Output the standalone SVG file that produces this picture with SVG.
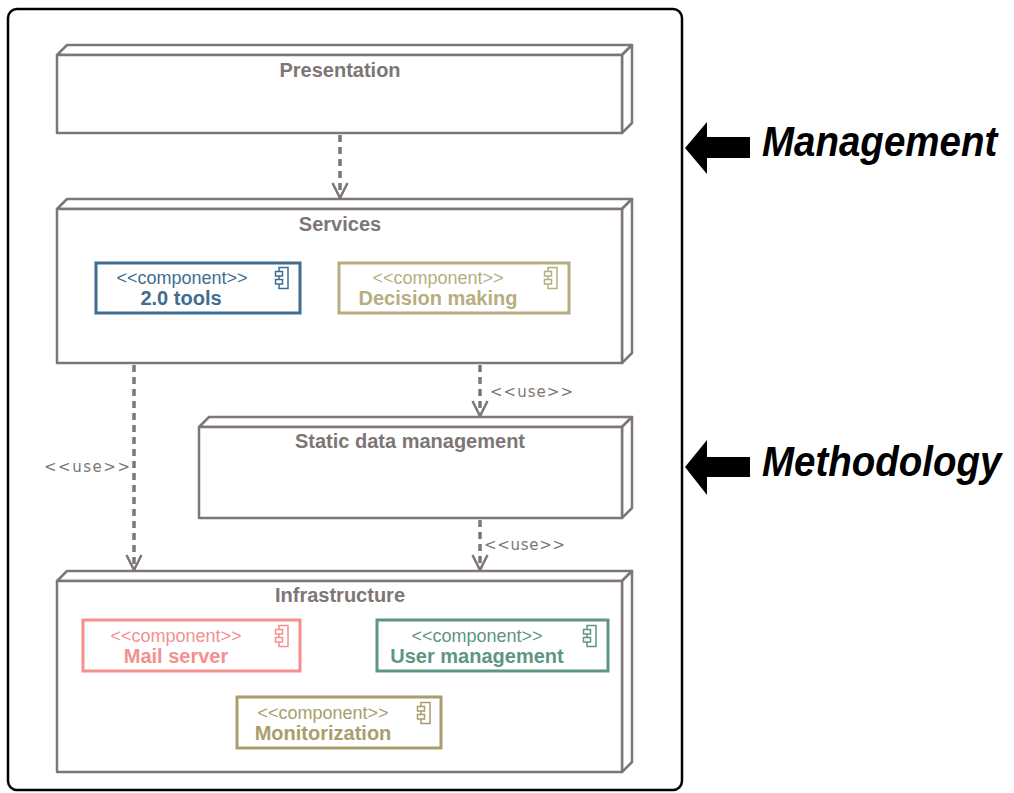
<svg xmlns="http://www.w3.org/2000/svg" width="1014" height="793" viewBox="0 0 1014 793">
<defs>
<style>
.node{fill:#fff;stroke:#7d7675;stroke-width:2.5;stroke-linejoin:round}
.title{font-family:"Liberation Sans",Arial,sans-serif;font-weight:bold;font-size:20px;fill:#7d7675;text-anchor:middle}
.ster{font-family:"Liberation Sans",Arial,sans-serif;font-size:18px;text-anchor:middle}
.cname{font-family:"Liberation Sans",Arial,sans-serif;font-weight:bold;font-size:20px;text-anchor:middle}
.comp{fill:#fff;stroke-width:3}
.icon{fill:#fff;stroke-width:1.5}
.dep{fill:none;stroke:#7d7675;stroke-width:3.5;stroke-dasharray:7 5}
.use{font-family:"DejaVu Sans","Liberation Sans",sans-serif;font-size:15px;fill:#7d7675}
.side{font-family:"Liberation Sans",Arial,sans-serif;font-weight:bold;font-style:italic;font-size:38.5px;fill:#000}
</style>
<marker id="open" viewBox="0 0 20 20" refX="18" refY="10" markerWidth="20" markerHeight="20" markerUnits="userSpaceOnUse" orient="auto">
<path d="M3,2.5 L18,10 L3,17.5" fill="none" stroke="#7d7675" stroke-width="2.5"/>
</marker>
<symbol id="ico" viewBox="0 0 14 22" overflow="visible">
<rect x="4" y="0.5" width="9" height="21"/>
<rect x="0.5" y="4.5" width="7" height="4.5"/>
<rect x="0.5" y="12.5" width="7" height="4.5"/>
</symbol>
</defs>

<g id="frame">
<rect x="8" y="9" width="674" height="781" rx="9" ry="9" fill="#fff" stroke="#000" stroke-width="2.5"/>
</g>

<g id="connectors">
<line class="dep" x1="340" y1="135" x2="340" y2="198" marker-end="url(#open)"/>
<line class="dep" x1="134" y1="365" x2="134" y2="570" marker-end="url(#open)"/>
<line class="dep" x1="480" y1="365" x2="480" y2="416" marker-end="url(#open)"/>
<line class="dep" x1="480" y1="520" x2="480" y2="570" marker-end="url(#open)"/>
<text class="use" x="44" y="472" textLength="86" lengthAdjust="spacing">&lt;&lt;use&gt;&gt;</text>
<text class="use" x="490" y="397" textLength="83" lengthAdjust="spacing">&lt;&lt;use&gt;&gt;</text>
<text class="use" x="484" y="550" textLength="81" lengthAdjust="spacing">&lt;&lt;use&gt;&gt;</text>
</g>

<g id="presentation">
<path class="node" d="M57,55 L67,45 L632,45 L622,55 Z"/>
<path class="node" d="M622,55 L632,45 L632,123 L622,133 Z"/>
<rect class="node" x="57" y="55" width="565" height="78"/>
<text class="title" x="340" y="77">Presentation</text>
</g>

<g id="services">
<path class="node" d="M57,209 L67,199 L632,199 L622,209 Z"/>
<path class="node" d="M622,209 L632,199 L632,353 L622,363 Z"/>
<rect class="node" x="57" y="209" width="565" height="154"/>
<text class="title" x="340" y="231">Services</text>
</g>

<g id="static-data-management">
<path class="node" d="M199,427 L209,417 L632,417 L622,427 Z"/>
<path class="node" d="M622,427 L632,417 L632,508 L622,518 Z"/>
<rect class="node" x="199" y="427" width="423" height="91"/>
<text class="title" x="410" y="448">Static data management</text>
</g>

<g id="infrastructure">
<path class="node" d="M57,581 L67,571 L632,571 L622,581 Z"/>
<path class="node" d="M622,581 L632,571 L632,762 L622,772 Z"/>
<rect class="node" x="57" y="581" width="565" height="191"/>
<text class="title" x="340" y="602">Infrastructure</text>
</g>

<g id="tools20">
<rect class="comp" x="96" y="263" width="204" height="50" stroke="#3f6d92"/>
<use href="#ico" x="275" y="267" width="14" height="22" class="icon" stroke="#3f6d92"/>
<text class="ster" x="182" y="284" fill="#3f6d92">&lt;&lt;component&gt;&gt;</text>
<text class="cname" x="181" y="305" fill="#3f6d92">2.0 tools</text>
</g>

<g id="decision-making">
<rect class="comp" x="339" y="263" width="230" height="50" stroke="#b8ad80"/>
<use href="#ico" x="544" y="267" width="14" height="22" class="icon" stroke="#b8ad80"/>
<text class="ster" x="438" y="284" fill="#b8ad80">&lt;&lt;component&gt;&gt;</text>
<text class="cname" x="438" y="305" fill="#b8ad80">Decision making</text>
</g>

<g id="mail-server">
<rect class="comp" x="83" y="620" width="217" height="51" stroke="#f4908e"/>
<use href="#ico" x="275" y="625" width="14" height="22" class="icon" stroke="#f4908e"/>
<text class="ster" x="176" y="642" fill="#f4908e">&lt;&lt;component&gt;&gt;</text>
<text class="cname" x="176" y="663" fill="#f4908e">Mail server</text>
</g>

<g id="user-management">
<rect class="comp" x="377" y="620" width="231" height="51" stroke="#5e9584"/>
<use href="#ico" x="583" y="625" width="14" height="22" class="icon" stroke="#5e9584"/>
<text class="ster" x="477" y="642" fill="#5e9584">&lt;&lt;component&gt;&gt;</text>
<text class="cname" x="477" y="663" fill="#5e9584">User management</text>
</g>

<g id="monitorization">
<rect class="comp" x="237" y="697" width="204" height="51" stroke="#aa9d6b"/>
<use href="#ico" x="417" y="702" width="14" height="22" class="icon" stroke="#aa9d6b"/>
<text class="ster" x="323" y="719" fill="#aa9d6b">&lt;&lt;component&gt;&gt;</text>
<text class="cname" x="323" y="740" fill="#aa9d6b">Monitorization</text>
</g>

<g id="management">
<path d="M685,148 L707,122 L707,137 L750,137 L750,158 L707,158 L707,174 Z" fill="#000"/>
<text class="side" transform="translate(762,156) scale(1,1.12)">Management</text>
</g>

<g id="methodology">
<path d="M685,467 L707,440 L707,457 L750,457 L750,477 L707,477 L707,495 Z" fill="#000"/>
<text class="side" transform="translate(762,476) scale(1,1.12)">Methodology</text>
</g>
</svg>
